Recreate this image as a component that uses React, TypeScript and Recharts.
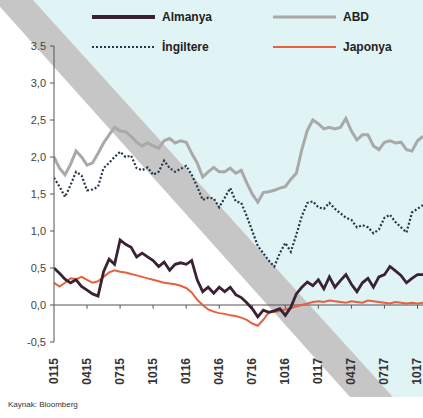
import { LineChart, Line, XAxis, YAxis, ReferenceLine } from 'recharts'

// x axis: months since Jan 2015, one point every half month
const TICK_MONTHS = [0, 3, 6, 9, 12, 15, 18, 21, 24, 27, 30, 33]
const TICK_LABELS = ['0115', '0415', '0715', '1015', '0116', '0416', '0716', '1016', '0117', '0417', '0717', '1017']
const Y_TICKS = [-0.5, 0, 0.5, 1, 1.5, 2, 2.5, 3, 3.5]
const Y_LABELS = ['-0,5', '0,0', '0,5', '1,0', '1,5', '2,0', '2,5', '3,0', '3.5']

const almanya = [
  0.5, 0.43, 0.35, 0.3, 0.34, 0.25, 0.2, 0.15, 0.12, 0.45, 0.62, 0.55, 0.88, 0.82, 0.78, 0.65, 0.7,
  0.65, 0.6, 0.52, 0.58, 0.47, 0.55, 0.57, 0.55, 0.6, 0.34, 0.18, 0.24, 0.16, 0.24, 0.18, 0.24, 0.14,
  0.1, 0.03, -0.05, -0.16, -0.07, -0.1, -0.08, -0.05, -0.14, -0.03, 0.15, 0.24, 0.31, 0.26, 0.34, 0.22,
  0.38, 0.24, 0.33, 0.41, 0.28, 0.18, 0.3, 0.36, 0.24, 0.38, 0.41, 0.52, 0.46, 0.4, 0.3, 0.36, 0.41, 0.41,
]
const abd = [
  2.0, 1.85, 1.76, 1.9, 2.08, 2.0, 1.89, 1.92, 2.05, 2.19, 2.3, 2.4, 2.35, 2.34, 2.28, 2.2, 2.15, 2.19,
  2.15, 2.12, 2.22, 2.25, 2.19, 2.22, 2.2, 2.05, 1.92, 1.73, 1.8, 1.86, 1.8, 1.8, 1.85, 1.78, 1.82, 1.65,
  1.5, 1.39, 1.52, 1.53, 1.55, 1.58, 1.6, 1.7, 1.78, 2.1, 2.36, 2.5, 2.45, 2.38, 2.4, 2.38, 2.4, 2.52,
  2.35, 2.23, 2.3, 2.3, 2.15, 2.1, 2.2, 2.22, 2.19, 2.2, 2.1, 2.08, 2.22, 2.28,
]
const ingiltere = [
  1.72, 1.6, 1.46, 1.62, 1.8, 1.75, 1.55, 1.56, 1.6, 1.85, 1.92, 2.0, 2.07, 2.0, 2.02, 1.85, 1.82, 1.86,
  1.76, 1.8, 1.95, 1.85, 1.8, 1.84, 1.88, 1.76, 1.6, 1.42, 1.45, 1.44, 1.32, 1.45, 1.58, 1.4, 1.38, 1.2,
  1.0, 0.8, 0.7, 0.6, 0.52, 0.7, 0.84, 0.72, 0.95, 1.2, 1.38, 1.4, 1.32, 1.3, 1.38, 1.3, 1.24, 1.18,
  1.15, 1.05, 1.08, 1.05, 0.97, 1.02, 1.18, 1.22, 1.12, 1.05, 0.98, 1.25, 1.3, 1.35,
]
const japonya = [
  0.3, 0.25, 0.3, 0.36, 0.35, 0.38, 0.34, 0.3, 0.32, 0.38, 0.44, 0.47, 0.45, 0.44, 0.42, 0.4, 0.38, 0.36,
  0.34, 0.32, 0.3, 0.29, 0.28, 0.26, 0.23, 0.17, 0.07, 0.0, -0.06, -0.09, -0.11, -0.12, -0.14, -0.15,
  -0.17, -0.2, -0.25, -0.28, -0.2, -0.1, -0.09, -0.08, -0.06, -0.04, -0.02, 0.0, 0.02, 0.04, 0.05, 0.04,
  0.06, 0.05, 0.04, 0.03, 0.05, 0.04, 0.03, 0.06, 0.05, 0.04, 0.03, 0.02, 0.04, 0.03, 0.02, 0.03, 0.02, 0.03,
]

const data = almanya.map((v, i) => ({
  m: i / 2,
  almanya: v,
  abd: abd[i],
  ingiltere: ingiltere[i],
  japonya: japonya[i],
}))

const FONT = '"Liberation Sans", Arial, sans-serif'

const C_ALMANYA = '#3a2232'
const C_ABD = '#a9a9a9'
const C_ING = '#23384c'
const C_JAP = '#e8603e'

const XTick = ({ x, y, payload }: any) => {
  const idx = TICK_MONTHS.indexOf(payload.value)
  return (
    <text
      x={x + 4}
      y={y + 8}
      transform={`rotate(-90 ${x + 4} ${y + 8})`}
      textAnchor="end"
      fontSize={12}
      fontWeight={700}
      fill="#333"
      fontFamily={FONT}
    >
      {TICK_LABELS[idx]}
    </text>
  )
}

const YTick = ({ x, y, payload }: any) => {
  const idx = Y_TICKS.indexOf(payload.value)
  return (
    <text x={x - 2} y={y + 4} textAnchor="end" fontSize={11} fill="#444" fontFamily={FONT}>
      {Y_LABELS[idx]}
    </text>
  )
}

const legendItems = [
  { name: 'Almanya', color: C_ALMANYA, width: 4, dash: undefined, left: 92, top: 17 },
  { name: 'ABD', color: C_ABD, width: 3, dash: undefined, left: 273, top: 17 },
  { name: 'İngiltere', color: C_ING, width: 2, dash: '2 2', left: 92, top: 47 },
  { name: 'Japonya', color: C_JAP, width: 2, dash: undefined, left: 273, top: 47 },
]

export default function App() {
  return (
    <div style={{ position: 'absolute', left: 0, top: 0, width: 423, height: 418, overflow: 'hidden', background: '#fff' }}>
      {/* scanned page background: light blue area and grey diagonal band */}
      <svg width={423} height={418} style={{ position: 'absolute', left: 0, top: 0 }}>
        <polygon points="33,0 423,0 423,397 393,397" fill="#e0f3f5" />
        <polygon points="-6,0 33,0 393,397 350,397" fill="#c6c6c6" />
      </svg>

      <div style={{ position: 'absolute', left: 0, top: 0 }}>
        <LineChart width={423} height={418} data={data} margin={{ top: 46, right: 0, left: 0, bottom: 0 }}>
          <XAxis
            type="number"
            dataKey="m"
            domain={[0, 33.5]}
            allowDataOverflow
            ticks={TICK_MONTHS}
            interval={0}
            tick={<XTick />}
            axisLine={false}
            tickLine={false}
            height={76}
          />
          <YAxis
            type="number"
            domain={[-0.5, 3.5]}
            ticks={Y_TICKS}
            interval={0}
            width={54}
            tick={<YTick />}
            tickSize={4}
            axisLine={{ stroke: '#555', strokeWidth: 1 }}
            tickLine={{ stroke: '#555' }}
          />
          <ReferenceLine y={0} stroke="#555" strokeWidth={1} />
          {TICK_MONTHS.slice(1).map((m) => (
            <ReferenceLine
              key={m}
              segment={[{ x: m, y: 0 }, { x: m, y: -0.05 }]}
              stroke="#555"
              strokeWidth={1}
            />
          ))}
          <Line dataKey="abd" stroke={C_ABD} strokeWidth={3} dot={false} isAnimationActive={false} />
          <Line
            dataKey="ingiltere"
            stroke={C_ING}
            strokeWidth={2.2}
            strokeDasharray="2 2"
            dot={false}
            isAnimationActive={false}
          />
          <Line dataKey="japonya" stroke={C_JAP} strokeWidth={2} dot={false} isAnimationActive={false} />
          <Line dataKey="almanya" stroke={C_ALMANYA} strokeWidth={2.8} dot={false} isAnimationActive={false} />
        </LineChart>
      </div>

      {legendItems.map((it) => (
        <div
          key={it.name}
          style={{ position: 'absolute', left: it.left, top: it.top - 8, height: 16, display: 'flex', alignItems: 'center' }}
        >
          <svg width={64} height={16}>
            <line x1={0} y1={8} x2={63} y2={8} stroke={it.color} strokeWidth={it.width} strokeDasharray={it.dash} />
          </svg>
          <span style={{ marginLeft: 6, fontFamily: FONT, fontSize: 12, fontWeight: 700, color: '#222' }}>{it.name}</span>
        </div>
      ))}

      <div style={{ position: 'absolute', left: 8, top: 400, fontFamily: FONT, fontSize: 8, color: '#333' }}>
        Kaynak: Bloomberg
      </div>
    </div>
  )
}
